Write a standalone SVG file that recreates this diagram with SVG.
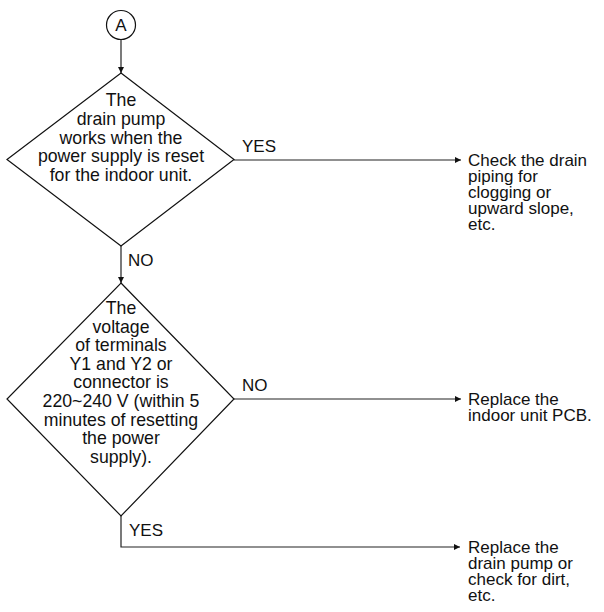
<svg xmlns="http://www.w3.org/2000/svg" width="604" height="612" viewBox="0 0 604 612">
<defs>
<style>
text{font-family:"Liberation Sans",Arial,Helvetica,sans-serif;fill:#111;}
.t{font-size:17px;}
.d{font-size:17.7px;text-anchor:middle;}
.c{text-anchor:middle;}
.shape{fill:#fff;stroke:#111;stroke-width:1.2;}
.ln{fill:none;stroke:#222;stroke-width:1.2;}
</style>
<marker id="ah" viewBox="0 0 10 10" refX="10" refY="5" markerWidth="9" markerHeight="6" markerUnits="userSpaceOnUse" orient="auto">
<path d="M0,0 L10,5 L0,10 z" fill="#111"/>
</marker>
</defs>
<rect width="604" height="612" fill="#fff"/>
<g id="connectors">
<line class="ln" x1="121" y1="39" x2="121" y2="73" marker-end="url(#ah)"/>
<line class="ln" x1="234" y1="160" x2="461" y2="160" marker-end="url(#ah)"/>
<line class="ln" x1="121" y1="246" x2="121" y2="283" marker-end="url(#ah)"/>
<line class="ln" x1="234" y1="399" x2="461" y2="399" marker-end="url(#ah)"/>
<polyline class="ln" points="121,516 121,547 460,547" marker-end="url(#ah)"/>
<text class="t" x="242" y="152">YES</text>
<text class="t" x="128" y="266">NO</text>
<text class="t" x="242" y="391">NO</text>
<text class="t" x="129" y="536">YES</text>
</g>
<g id="start">
<circle class="shape" cx="121" cy="25" r="14.5"/>
<text class="t c" x="121" y="31">A</text>
</g>
<g id="decision1">
<polygon class="shape" points="121,73 234,159.5 121,246 7,159.5"/>
<text class="d" x="121" y="106">The</text>
<text class="d" x="121" y="125">drain pump</text>
<text class="d" x="121" y="143.5">works when the</text>
<text class="d" x="121" y="162">power supply is reset</text>
<text class="d" x="121" y="180.5">for the indoor unit.</text>
</g>
<g id="result1">
<text class="t" x="468" y="166">Check the drain</text>
<text class="t" x="468" y="182">piping for</text>
<text class="t" x="468" y="198">clogging or</text>
<text class="t" x="468" y="214">upward slope,</text>
<text class="t" x="468" y="230">etc.</text>
</g>
<g id="decision2">
<polygon class="shape" points="121,283 234,399 121,516 7,399"/>
<text class="d" x="121" y="314">The</text>
<text class="d" x="121" y="332.6">voltage</text>
<text class="d" x="121" y="351.2">of terminals</text>
<text class="d" x="121" y="369.8">Y1 and Y2 or</text>
<text class="d" x="121" y="388.4">connector is</text>
<text class="d" x="121" y="407">220~240 V (within 5</text>
<text class="d" x="121" y="425.6">minutes of resetting</text>
<text class="d" x="121" y="444.2">the power</text>
<text class="d" x="121" y="462.8">supply).</text>
</g>
<g id="result2">
<text class="t" x="468" y="405">Replace the</text>
<text class="t" x="468" y="421">indoor unit PCB.</text>
</g>
<g id="result3">
<text class="t" x="468" y="553">Replace the</text>
<text class="t" x="468" y="569">drain pump or</text>
<text class="t" x="468" y="585">check for dirt,</text>
<text class="t" x="468" y="601">etc.</text>
</g>
</svg>
